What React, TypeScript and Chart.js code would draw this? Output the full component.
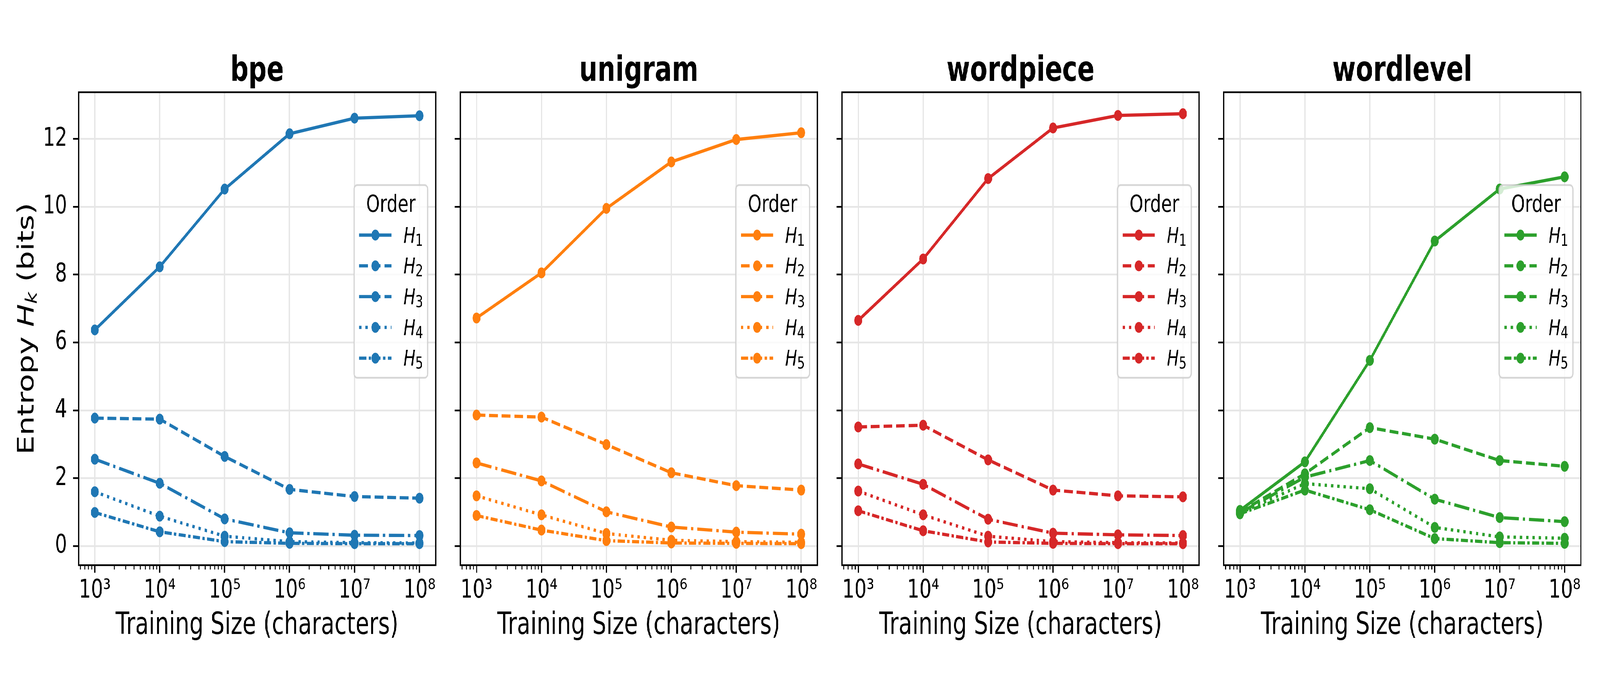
import React, { useEffect, useRef, useState } from 'react';
import { Chart, registerables } from 'chart.js';

Chart.register(...registerables);

const FONT = '"DejaVu Sans"';
Chart.defaults.font.family = FONT;
Chart.defaults.color = '#000';

// ---------------- data ----------------
const TRAIN_SIZES = [1e3, 1e4, 1e5, 1e6, 1e7, 1e8];
const TOKENIZERS = ['bpe', 'unigram', 'wordpiece', 'wordlevel'];
const ORDER_LABELS = ['1', '2', '3', '4', '5'];
const X_TICK_EXPONENTS = [3, 4, 5, 6, 7, 8];
const Y_TICKS = [0, 2, 4, 6, 8, 10, 12];

const BPE_H1 = [6.37, 8.23, 10.52, 12.15, 12.61, 12.68];
const BPE_H2 = [3.77, 3.74, 2.64, 1.67, 1.46, 1.41];
const BPE_H3 = [2.56, 1.85, 0.8, 0.39, 0.32, 0.31];
const BPE_H4 = [1.6, 0.88, 0.29, 0.13, 0.1, 0.09];
const BPE_H5 = [0.99, 0.42, 0.13, 0.08, 0.07, 0.07];

const UNIGRAM_H1 = [6.72, 8.05, 9.95, 11.32, 11.98, 12.18];
const UNIGRAM_H2 = [3.86, 3.8, 2.99, 2.16, 1.78, 1.65];
const UNIGRAM_H3 = [2.45, 1.92, 1.01, 0.56, 0.41, 0.35];
const UNIGRAM_H4 = [1.48, 0.92, 0.37, 0.17, 0.13, 0.11];
const UNIGRAM_H5 = [0.9, 0.47, 0.16, 0.09, 0.08, 0.07];

const WORDPIECE_H1 = [6.65, 8.46, 10.83, 12.32, 12.69, 12.74];
const WORDPIECE_H2 = [3.51, 3.56, 2.54, 1.65, 1.48, 1.45];
const WORDPIECE_H3 = [2.42, 1.82, 0.79, 0.38, 0.33, 0.31];
const WORDPIECE_H4 = [1.62, 0.92, 0.29, 0.13, 0.1, 0.09];
const WORDPIECE_H5 = [1.04, 0.45, 0.12, 0.08, 0.07, 0.07];

const WORDLEVEL_H1 = [1.05, 2.48, 5.47, 8.99, 10.52, 10.88];
const WORDLEVEL_H2 = [1.0, 2.13, 3.49, 3.15, 2.52, 2.35];
const WORDLEVEL_H3 = [0.98, 2.03, 2.52, 1.38, 0.84, 0.72];
const WORDLEVEL_H4 = [0.97, 1.84, 1.69, 0.55, 0.27, 0.23];
const WORDLEVEL_H5 = [0.95, 1.65, 1.07, 0.22, 0.1, 0.08];

const SERIES = [
  [BPE_H1, BPE_H2, BPE_H3, BPE_H4, BPE_H5],
  [UNIGRAM_H1, UNIGRAM_H2, UNIGRAM_H3, UNIGRAM_H4, UNIGRAM_H5],
  [WORDPIECE_H1, WORDPIECE_H2, WORDPIECE_H3, WORDPIECE_H4, WORDPIECE_H5],
  [WORDLEVEL_H1, WORDLEVEL_H2, WORDLEVEL_H3, WORDLEVEL_H4, WORDLEVEL_H5],
];

const COLORS = ['#1f77b4', '#ff7f0e', '#d62728', '#2ca02c'];

// ---------------- styling / layout ----------------
const PAGE_W = 5600;
const CANVAS_H = 1750;
const AX_LEFT = [275, 1611, 2947, 4283];
const AX_W = 1250;
const AX_TOP = 236;
const AX_BOTTOM = 1446;
const PAD_LEFT = [275, 86, 86, 86];
const PAD_RIGHT = 40;
const TITLE_BASELINE = 207;

const LW = 8.33;
const DASHES = [[], [30.8, 13.3], [53.3, 13.3, 8.3, 13.3], [8.3, 13.75], [25, 8.3, 8.3, 8.3]];
const MARKER_R = 13.9;
const GRID_COLOR = '#e6e6e6';
const SPINE_W = 4.4;

const ALL_VALUES = SERIES.flat(2);
const Y_DMIN = Math.min(...ALL_VALUES);
const Y_DMAX = Math.max(...ALL_VALUES);
const Y_MIN = Y_DMIN - 0.05 * (Y_DMAX - Y_DMIN);
const Y_MAX = Y_DMAX + 0.05 * (Y_DMAX - Y_DMIN);
const LOG_LO = Math.log10(Math.min(...TRAIN_SIZES));
const LOG_HI = Math.log10(Math.max(...TRAIN_SIZES));
const X_MIN = Math.pow(10, LOG_LO - 0.05 * (LOG_HI - LOG_LO));
const X_MAX = Math.pow(10, LOG_HI + 0.05 * (LOG_HI - LOG_LO));

const SUP = ['⁰', '¹', '²', '³', '⁴', '⁵', '⁶', '⁷', '⁸', '⁹'];
const toSup = (n: number) => String(n).split('').map((c) => SUP[+c]).join('');

function drawLegend(ctx: CanvasRenderingContext2D, right: number, color: string) {
  const bw = 258;
  const bh = 493;
  const bx = right - 27.8 - bw;
  const by = 473.5;
  ctx.save();
  ctx.beginPath();
  (ctx as any).roundRect(bx, by, bw, bh, 11);
  ctx.fillStyle = 'rgba(255,255,255,0.8)';
  ctx.fill();
  ctx.strokeStyle = 'rgba(204,204,204,0.8)';
  ctx.lineWidth = SPINE_W;
  ctx.stroke();

  ctx.fillStyle = '#000';
  ctx.font = `61px ${FONT}`;
  ctx.textAlign = 'center';
  ctx.textBaseline = 'alphabetic';
  ctx.fillText('Order', bx + bw / 2, by + 68.6);

  for (let k = 0; k < ORDER_LABELS.length; k++) {
    const cy = by + 128 + 78.7 * k;
    ctx.strokeStyle = color;
    ctx.lineWidth = LW;
    ctx.lineCap = 'butt';
    ctx.setLineDash(DASHES[k]);
    ctx.beginPath();
    ctx.moveTo(bx + 18, cy);
    ctx.lineTo(bx + 131, cy);
    ctx.stroke();
    ctx.setLineDash([]);
    ctx.beginPath();
    ctx.arc(bx + 74.6, cy, MARKER_R, 0, Math.PI * 2);
    ctx.fillStyle = color;
    ctx.fill();

    ctx.fillStyle = '#000';
    ctx.textAlign = 'left';
    ctx.font = `italic 55.6px ${FONT}`;
    const tx = bx + 173;
    const ty = cy + 19;
    ctx.fillText('H', tx, ty);
    const w = ctx.measureText('H').width;
    ctx.font = `42px ${FONT}`;
    ctx.fillText(ORDER_LABELS[k], tx + w, ty + 8);
  }
  ctx.restore();
}

function drawYTitle(ctx: CanvasRenderingContext2D, baseX: number, cy: number) {
  const parts = [
    { t: 'Entropy ', f: `77.8px ${FONT}`, dy: 0 },
    { t: 'H', f: `italic 77.8px ${FONT}`, dy: 0 },
    { t: 'k', f: `italic 54.5px ${FONT}`, dy: 11 },
    { t: ' (bits)', f: `77.8px ${FONT}`, dy: 0 },
  ];
  ctx.save();
  let total = 0;
  const widths = parts.map((p) => {
    ctx.font = p.f;
    const w = ctx.measureText(p.t).width;
    total += w;
    return w;
  });
  ctx.translate(baseX, cy);
  ctx.rotate(-Math.PI / 2);
  ctx.fillStyle = '#000';
  ctx.textAlign = 'left';
  ctx.textBaseline = 'alphabetic';
  let x = -total / 2;
  parts.forEach((p, i) => {
    ctx.font = p.f;
    ctx.fillText(p.t, x, p.dy);
    x += widths[i];
  });
  ctx.restore();
}

function makeDecor(index: number) {
  return {
    id: 'decor' + index,
    afterDatasetsDraw(chart: any) {
      const ctx: CanvasRenderingContext2D = chart.ctx;
      const a = chart.chartArea;
      const xs = chart.scales.x;
      ctx.save();
      // minor ticks of the log axis
      ctx.strokeStyle = '#000';
      ctx.lineWidth = 3.33;
      const e0 = Math.floor(Math.log10(xs.min));
      const e1 = Math.ceil(Math.log10(xs.max));
      for (let e = e0; e <= e1; e++) {
        for (let m = 2; m <= 9; m++) {
          const v = m * Math.pow(10, e);
          if (v < xs.min || v > xs.max) continue;
          const px = xs.getPixelForValue(v);
          ctx.beginPath();
          ctx.moveTo(px, a.bottom);
          ctx.lineTo(px, a.bottom + 11.1);
          ctx.stroke();
        }
      }
      // spines
      ctx.lineWidth = SPINE_W;
      ctx.strokeRect(a.left, a.top, a.right - a.left, a.bottom - a.top);
      // panel title
      ctx.fillStyle = '#000';
      ctx.font = `bold 88.9px ${FONT}`;
      ctx.textAlign = 'center';
      ctx.textBaseline = 'alphabetic';
      ctx.fillText(TOKENIZERS[index], (a.left + a.right) / 2, TITLE_BASELINE);
      ctx.restore();
      drawLegend(ctx, a.right, COLORS[index]);
      if (index === 0) drawYTitle(ctx, 117, (a.top + a.bottom) / 2);
    },
  };
}

function makeConfig(index: number): any {
  const color = COLORS[index];
  const datasets = SERIES[index].map((vals, k) => ({
    label: 'H' + ORDER_LABELS[k],
    data: TRAIN_SIZES.map((x, j) => ({ x, y: vals[j] })),
    borderColor: color,
    backgroundColor: color,
    pointBackgroundColor: color,
    pointBorderColor: color,
    borderWidth: LW,
    borderDash: DASHES[k],
    borderCapStyle: 'butt',
    pointRadius: MARKER_R,
    pointHoverRadius: MARKER_R,
    pointBorderWidth: 0,
    tension: 0,
    fill: false,
    order: SERIES[index].length - 1 - k,
  }));
  const gridCommon = {
    color: GRID_COLOR,
    lineWidth: 4.4,
    tickColor: '#000',
    tickWidth: SPINE_W,
    tickLength: 19.4,
    drawTicks: true,
  };
  return {
    type: 'line',
    data: { datasets },
    options: {
      responsive: false,
      animation: false,
      devicePixelRatio: 1,
      events: [],
      layout: {
        autoPadding: false,
        padding: { left: 0, right: PAD_RIGHT, top: AX_TOP, bottom: 0 },
      },
      plugins: {
        legend: { display: false },
        tooltip: { enabled: false },
        title: { display: false },
      },
      scales: {
        x: {
          type: 'logarithmic',
          min: X_MIN,
          max: X_MAX,
          afterBuildTicks: (s: any) => {
            s.ticks = X_TICK_EXPONENTS.map((e) => ({ value: Math.pow(10, e), major: true }));
          },
          afterFit: (s: any) => {
            s.height = CANVAS_H - AX_BOTTOM;
          },
          ticks: {
            autoSkip: false,
            maxRotation: 0,
            minRotation: 0,
            padding: 6,
            color: '#000',
            font: { family: FONT, size: 66.7 },
            callback: (v: number) => '10' + toSup(Math.round(Math.log10(v))),
          },
          grid: gridCommon,
          border: { display: false },
          title: {
            display: true,
            text: 'Training Size (characters)',
            color: '#000',
            font: { family: FONT, size: 77.8 },
            padding: { top: 0, bottom: 101.5 },
          },
        },
        y: {
          type: 'linear',
          min: Y_MIN,
          max: Y_MAX,
          afterBuildTicks: (s: any) => {
            s.ticks = Y_TICKS.map((v) => ({ value: v }));
          },
          afterFit: (s: any) => {
            s.width = PAD_LEFT[index];
          },
          ticks: {
            display: index === 0,
            padding: 20.6,
            color: '#000',
            font: { family: FONT, size: 66.7 },
            callback: (v: number) => String(v),
          },
          grid: gridCommon,
          border: { display: false },
        },
      },
    },
    plugins: [makeDecor(index)],
  };
}

function Panel({ index }: { index: number }) {
  const ref = useRef<HTMLCanvasElement | null>(null);
  useEffect(() => {
    const chart = new Chart(ref.current as HTMLCanvasElement, makeConfig(index));
    return () => chart.destroy();
  }, [index]);
  const left = AX_LEFT[index] - PAD_LEFT[index];
  const width = PAD_LEFT[index] + AX_W + PAD_RIGHT;
  return (
    <canvas
      ref={ref}
      width={width}
      height={CANVAS_H}
      style={{ position: 'absolute', left, top: 0, width, height: CANVAS_H }}
    />
  );
}

function useViewportScale() {
  const get = () => ({
    sx: (window.innerWidth || PAGE_W) / PAGE_W,
    sy: (window.innerHeight || CANVAS_H) / CANVAS_H,
  });
  const [s, setS] = useState(get);
  useEffect(() => {
    const onResize = () => setS(get());
    window.addEventListener('resize', onResize);
    return () => window.removeEventListener('resize', onResize);
  }, []);
  return s;
}

export default function App() {
  const { sx, sy } = useViewportScale();
  return (
    <div
      style={{
        position: 'fixed',
        left: 0,
        top: 0,
        width: PAGE_W,
        height: CANVAS_H,
        background: '#fff',
        overflow: 'hidden',
        transformOrigin: '0 0',
        transform: `scale(${sx}, ${sy})`,
      }}
    >
      {TOKENIZERS.map((name, i) => (
        <Panel key={name} index={i} />
      ))}
    </div>
  );
}
